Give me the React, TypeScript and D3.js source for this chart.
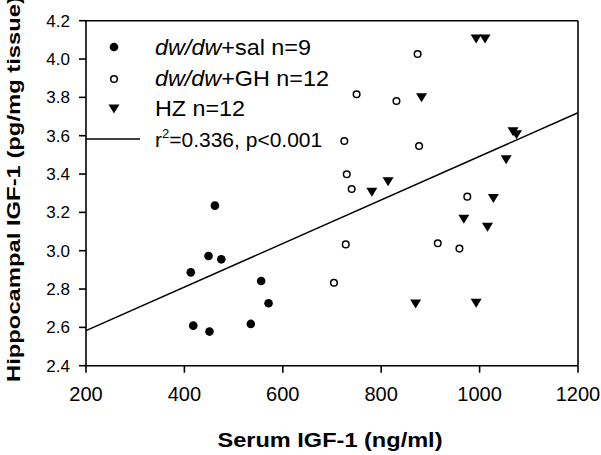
import React from "react";
import * as d3 from "d3";

const salX = [462, 449, 475, 413, 556, 571, 418, 451, 535];
const salY = [3.235, 2.972, 2.955, 2.887, 2.842, 2.726, 2.609, 2.578, 2.618];
const ghX = [874, 750, 831, 725, 877, 730, 740, 975, 728, 915, 959, 704];
const ghY = [4.026, 3.816, 3.781, 3.572, 3.546, 3.399, 3.322, 3.282, 3.033, 3.039, 3.011, 2.833];
const hzX = [993, 1011, 882, 1068, 1075, 1054, 814, 781, 1028, 968, 1016, 870, 993];
const hzY = [4.105, 4.105, 3.798, 3.62, 3.605, 3.475, 3.36, 3.305, 3.273, 3.164, 3.122, 2.722, 2.726];
const fitX = [200, 1200];
const fitY = [2.583, 3.72];
const xTicks = [200, 400, 600, 800, 1000, 1200];
const yTicks = [2.4, 2.6, 2.8, 3.0, 3.2, 3.4, 3.6, 3.8, 4.0, 4.2];

const FONT = "'Liberation Sans', Arial, sans-serif";

export default function App() {
  const L = 86, R = 578, T = 20.7, B = 365.7;
  const x = d3.scaleLinear().domain([200, 1200]).range([L, R]);
  const y = d3.scaleLinear().domain([2.4, 4.2]).range([B, T]);
  const line = d3.line<number>().x((d, i) => x(fitX[i])).y((d) => y(d));
  const tri = (cx: number, cy: number) =>
    `M${cx - 5.5},${cy - 4.5}L${cx + 5.5},${cy - 4.5}L${cx},${cy + 4.5}Z`;

  return (
    <svg width={601} height={455} style={{ position: "absolute", left: 0, top: 0, background: "#fff" }}>
      <rect x={0} y={0} width={601} height={455} fill="#fff" />
      <g stroke="#000" strokeWidth={1.6} fill="none">
        <line x1={L} y1={T} x2={R} y2={T} />
        <line x1={R} y1={T} x2={R} y2={B} />
        <line x1={L} y1={T} x2={L} y2={B} />
        <line x1={L} y1={B} x2={R} y2={B} />
        {yTicks.map((t) => (
          <line key={"yt" + t} x1={L - 7} x2={L} y1={y(t)} y2={y(t)} />
        ))}
        {xTicks.map((t) => (
          <line key={"xt" + t} x1={x(t)} x2={x(t)} y1={B} y2={B + 7} />
        ))}
      </g>
      {yTicks.map((t) => (
        <text key={"yl" + t} x={70} y={y(t) + 6} textAnchor="end" fontFamily={FONT} fontSize={17} fill="#000">
          {t.toFixed(1)}
        </text>
      ))}
      {xTicks.map((t) => (
        <text key={"xl" + t} x={x(t)} y={401} textAnchor="middle" fontFamily={FONT} fontSize={20} fill="#000">
          {t}
        </text>
      ))}
      <text x={330} y={447} textAnchor="middle" fontFamily={FONT} fontSize={20} fontWeight="bold" textLength={225} lengthAdjust="spacingAndGlyphs">
        Serum IGF-1 (ng/ml)
      </text>
      <text
        transform="translate(20,189) rotate(-90)"
        textAnchor="middle"
        fontFamily={FONT}
        fontSize={18}
        fontWeight="bold"
        textLength={386}
        lengthAdjust="spacingAndGlyphs"
      >
        Hippocampal IGF-1 (pg/mg tissue)
      </text>

      <path d={line(fitY) || ""} stroke="#000" strokeWidth={1.5} fill="none" />

      {salX.map((v, i) => (
        <circle key={"s" + i} cx={x(v)} cy={y(salY[i])} r={4.3} fill="#000" />
      ))}
      {ghX.map((v, i) => (
        <circle key={"g" + i} cx={x(v)} cy={y(ghY[i])} r={3.3} fill="#fff" stroke="#000" strokeWidth={1.5} />
      ))}
      {hzX.map((v, i) => (
        <path key={"h" + i} d={tri(x(v), y(hzY[i]))} fill="#000" />
      ))}

      <circle cx={114} cy={47} r={4.3} fill="#000" />
      <circle cx={114} cy={79} r={3.3} fill="#fff" stroke="#000" strokeWidth={1.5} />
      <path d={tri(114, 109)} fill="#000" />
      <line x1={L} x2={140} y1={139} y2={139} stroke="#000" strokeWidth={1.5} />
      <g fontFamily={FONT} fontSize={22} fill="#000">
        <text x={155} y={55} textLength={156} lengthAdjust="spacingAndGlyphs">
          <tspan fontStyle="italic">dw/dw</tspan>+sal n=9
        </text>
        <text x={155} y={86} textLength={174} lengthAdjust="spacingAndGlyphs">
          <tspan fontStyle="italic">dw/dw</tspan>+GH n=12
        </text>
        <text x={155} y={116} textLength={90} lengthAdjust="spacingAndGlyphs">HZ n=12</text>
        <text x={155} y={147} fontSize={21}>
          r<tspan fontSize={13} dy={-9}>2</tspan>
          <tspan dy={9}>=0.336, p&lt;0.001</tspan>
        </text>
      </g>
    </svg>
  );
}
